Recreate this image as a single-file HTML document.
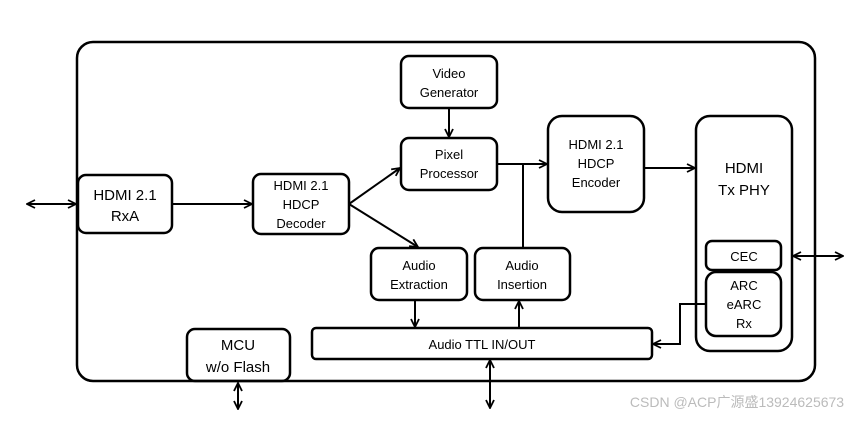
<!DOCTYPE html>
<html><head><meta charset="utf-8"><style>
body{margin:0;background:#fff}
svg text{font-family:"Liberation Sans","Noto Sans CJK SC",sans-serif;fill:#000;text-anchor:middle}
</style></head><body>
<svg width="867" height="417" viewBox="0 0 867 417" xmlns="http://www.w3.org/2000/svg">
<defs>
<marker id="a" markerWidth="10" markerHeight="10" refX="9" refY="5" orient="auto-start-reverse" markerUnits="userSpaceOnUse">
<path d="M1,1 L9,5 L1,9" fill="none" stroke="#000" stroke-width="1.8"/></marker>
</defs>
<g fill="none" stroke="#000" stroke-width="2.5">
<rect x="77" y="42" width="738" height="339" rx="16"/>
<rect x="78" y="175" width="94" height="58" rx="8"/>
<rect x="253" y="174" width="96" height="60" rx="8"/>
<rect x="401" y="56" width="96" height="52" rx="8"/>
<rect x="401" y="138" width="96" height="52" rx="8"/>
<rect x="548" y="116" width="96" height="96" rx="14"/>
<rect x="696" y="116" width="96" height="235" rx="14"/>
<rect x="706" y="241" width="75" height="29" rx="6"/>
<rect x="706" y="272" width="75" height="64" rx="10"/>
<rect x="371" y="248" width="96" height="52" rx="8"/>
<rect x="475" y="248" width="95" height="52" rx="8"/>
<rect x="312" y="328" width="340" height="31" rx="4"/>
<rect x="187" y="329" width="103" height="52" rx="8"/>
</g>
<g fill="none" stroke="#000" stroke-width="2">
<line x1="27" y1="204" x2="76" y2="204" marker-start="url(#a)" marker-end="url(#a)"/>
<line x1="172" y1="204" x2="252" y2="204" marker-end="url(#a)"/>
<line x1="349" y1="204" x2="400" y2="168" marker-end="url(#a)"/>
<line x1="349" y1="204" x2="418" y2="247" marker-end="url(#a)"/>
<line x1="449" y1="108" x2="449" y2="137" marker-end="url(#a)"/>
<line x1="497" y1="164" x2="547" y2="164" marker-end="url(#a)"/>
<line x1="523" y1="164" x2="523" y2="248"/>
<line x1="644" y1="168" x2="695" y2="168" marker-end="url(#a)"/>
<line x1="793" y1="256" x2="843" y2="256" marker-start="url(#a)" marker-end="url(#a)"/>
<polyline points="706,304 680,304 680,344 653,344" marker-end="url(#a)"/>
<line x1="415" y1="300" x2="415" y2="327" marker-end="url(#a)"/>
<line x1="519" y1="328" x2="519" y2="301" marker-end="url(#a)"/>
<line x1="490" y1="360" x2="490" y2="408" marker-start="url(#a)" marker-end="url(#a)"/>
<line x1="238" y1="383" x2="238" y2="409" marker-start="url(#a)" marker-end="url(#a)"/>
</g>
<g font-size="15"><text x="125" y="200">HDMI 2.1</text><text x="125" y="221">RxA</text>
<text x="744" y="173">HDMI</text><text x="744" y="195">Tx PHY</text>
<text x="238" y="350">MCU</text><text x="238" y="372">w/o Flash</text></g>
<g font-size="13">
<text x="301" y="190">HDMI 2.1</text><text x="301" y="209">HDCP</text><text x="301" y="228">Decoder</text>
<text x="449" y="78">Video</text><text x="449" y="97">Generator</text>
<text x="449" y="159">Pixel</text><text x="449" y="178">Processor</text>
<text x="596" y="149">HDMI 2.1</text><text x="596" y="168">HDCP</text><text x="596" y="187">Encoder</text>
<text x="744" y="261">CEC</text>
<text x="744" y="290">ARC</text><text x="744" y="309">eARC</text><text x="744" y="328">Rx</text>
<text x="419" y="270">Audio</text><text x="419" y="289">Extraction</text>
<text x="522" y="270">Audio</text><text x="522" y="289">Insertion</text>
<text x="482" y="349">Audio TTL IN/OUT</text>
</g>
<text x="737" y="407" font-size="14" style="fill:#bbb">CSDN @ACP广源盛13924625673</text>
</svg>
</body></html>
